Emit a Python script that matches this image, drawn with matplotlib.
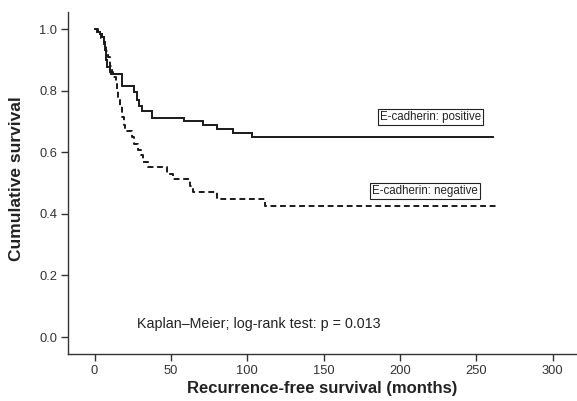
import matplotlib
matplotlib.use("Agg")
import matplotlib.pyplot as plt

# ---- data ----
pos_times = [0, 1.5, 3.5, 5.1, 6.2, 6.9, 7.3, 8.4, 10.1, 10.8, 17.8, 25.9, 28.0, 29.3,
             30.9, 37.5, 58.8, 70.8, 80.4, 90.5, 103.4]
pos_surv = [1.0, 0.992, 0.985, 0.975, 0.96, 0.933, 0.90, 0.878, 0.862, 0.854, 0.817,
            0.797, 0.770, 0.752, 0.735, 0.713, 0.703, 0.690, 0.677, 0.664, 0.650]
pos_end = 260.8

neg_times = [0, 2.5, 4.5, 6, 7.5, 9, 10.2, 11.5, 12.3, 14, 15, 15.6, 16.8, 17.8, 19, 20,
             24.4, 26, 28.7, 30.5, 32, 34.7, 47.3, 51.2, 62.6, 64.5, 80, 111.7]
neg_surv = [1.0, 0.985, 0.97, 0.95, 0.93, 0.91, 0.88, 0.86, 0.846, 0.824, 0.80, 0.781,
            0.75, 0.716, 0.69, 0.669, 0.65, 0.627, 0.608, 0.592, 0.570, 0.553, 0.53,
            0.512, 0.49, 0.472, 0.449, 0.426]
neg_end = 263.4

x_ticks = [0, 50, 100, 150, 200, 250, 300]
y_ticks = [0.0, 0.2, 0.4, 0.6, 0.8, 1.0]
y_ticklabels = ["0.0", "0.2", "0.4", "0.6", "0.8", "1.0"]

label_pos = "E-cadherin: positive"
label_neg = "E-cadherin: negative"
note = "Kaplan\u2013Meier; log-rank test: p = 0.013"
xlabel = "Recurrence-free survival (months)"
ylabel = "Cumulative survival"

# ---- figure ----
plt.rcParams['font.family'] = ['Liberation Sans', 'DejaVu Sans']
fig = plt.figure(figsize=(5.77, 4.01), dpi=100)
ax = fig.add_axes([0.1184, 0.1180, 0.8816, 0.8521])

line_col = "#1a1a1a"
ax.step(pos_times + [pos_end], pos_surv + [pos_surv[-1]], where="post",
        color=line_col, lw=1.4, solid_joinstyle="miter")
ax.step(neg_times + [neg_end], neg_surv + [neg_surv[-1]], where="post",
        color=line_col, lw=1.4, linestyle=(0, (3.0, 1.9)))

ax.set_xlim(-17.2, 316)
ax.set_ylim(-0.054, 1.056)
ax.set_xticks(x_ticks)
ax.set_yticks(y_ticks)
ax.set_yticklabels(y_ticklabels)

for s in ["top", "right"]:
    ax.spines[s].set_visible(False)
for s in ["left", "bottom"]:
    ax.spines[s].set_color("#333333")
    ax.spines[s].set_linewidth(1.0)

ax.tick_params(axis="both", direction="out", length=4.8, width=1.0, color="#333333",
               labelsize=9.3, labelcolor="#333333", pad=3.2)

ax.set_xlabel(xlabel, fontsize=12, fontweight="bold", color="#222222", labelpad=3)
ax.set_ylabel(ylabel, fontsize=12.5, fontweight="bold", color="#222222")
ax.yaxis.set_label_coords(-0.088, 0.511)

box = dict(boxstyle="square,pad=0.18", fc="white", ec="#222222", lw=0.8)
ax.text(220.2, 0.716, label_pos, fontsize=8.3, ha="center", va="center",
        color="#222222", bbox=box)
ax.text(216.2, 0.474, label_neg, fontsize=8.3, ha="center", va="center",
        color="#222222", bbox=box)
ax.text(27.6, 0.028, note, fontsize=10.3, ha="left", va="baseline", color="#222222")

fig.savefig("out.png", dpi=100)
